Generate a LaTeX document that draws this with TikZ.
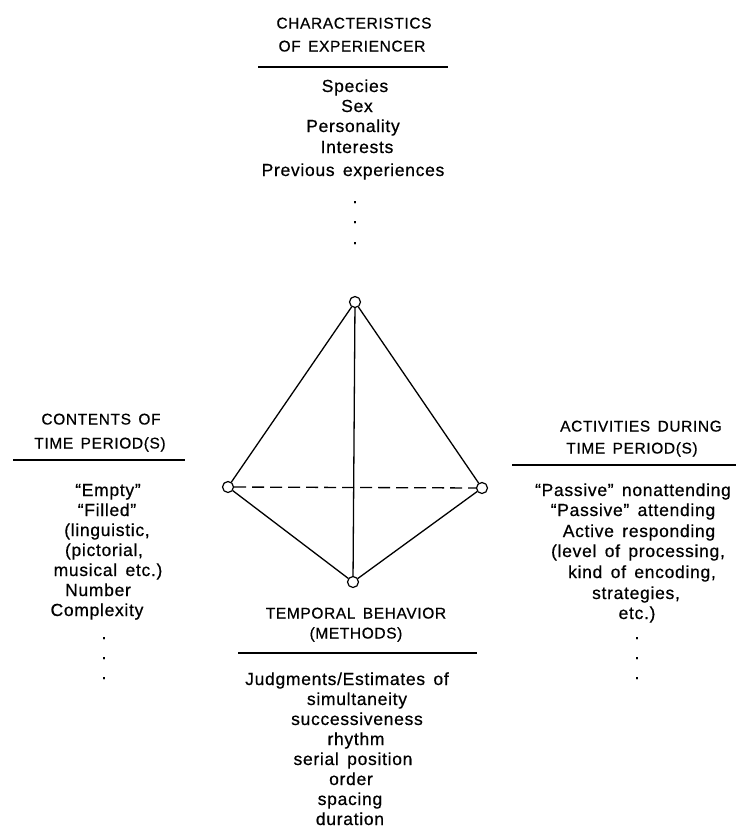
\documentclass[tikz,border=0pt]{standalone}
\usepackage{fontspec}
\setmainfont{Liberation Sans}[LetterSpace=4,WordSpace=1.5,FakeBold=0.6]
\begin{document}
\begin{tikzpicture}[x=1pt,y=-1pt,
  vtx/.style={circle,draw,line width=1.2pt,minimum size=11pt,inner sep=0pt,fill=white},
  edge/.style={line width=1.3pt},
  rulebar/.style={line width=2.4pt},
  head/.style={inner sep=0pt,text height=11pt,text depth=0pt,font=\fontsize{15.5}{18}\selectfont},
  item/.style={inner sep=0pt,text height=10pt,text depth=0pt,font=\fontsize{17.5}{19}\selectfont},
  dot/.style={inner sep=0pt,text height=2pt,text depth=0pt,font=\fontsize{17}{19}\selectfont}
]
\useasboundingbox (0,0) rectangle (736,830);

% tetrahedron vertices
\node[vtx] (T) at (355,302) {};
\node[vtx] (L) at (228,487) {};
\node[vtx] (R) at (482,488) {};
\node[vtx] (B) at (353,582) {};
\draw[edge] (T) -- (L);
\draw[edge] (T) -- (R);
\draw[edge] (T) -- (B);
\draw[edge] (L) -- (B);
\draw[edge] (R) -- (B);
\draw[edge,dash pattern=on 12pt off 6pt] (L) -- (R);

% top block
\node[head] (t1) at (354,23) {CHARACTERISTICS};
\node[head] (t2) at (352,46) {OF EXPERIENCER};
\coordinate (tr1) at (258,67); \coordinate (tr2) at (448,67);
\draw[rulebar] (tr1) -- (tr2);
\node[item] (t3) at (355,87) {Species};
\node[item] (t4) at (357,107) {Sex};
\node[item] (t5) at (353,127) {Personality};
\node[item] (t6) at (357,148) {Interests};
\node[item] (t7) at (353,171) {Previous experiences};
\node[dot] (td1) at (355,202) {.};
\node[dot] (td2) at (355,222) {.};
\node[dot] (td3) at (355,243) {.};

% left block
\node[head] (l1) at (101,419) {CONTENTS OF};
\node[head] (l2) at (100,443) {TIME PERIOD(S)};
\coordinate (lr1) at (13,460); \coordinate (lr2) at (185,460);
\draw[rulebar] (lr1) -- (lr2);
\node[item] (l3) at (108,491) {“Empty”};
\node[item] (l4) at (107,511) {“Filled”};
\node[item] (l5) at (107,531) {(linguistic,};
\node[item] (l6) at (104,551) {(pictorial,};
\node[item] (l7) at (108,571) {musical etc.)};
\node[item] (l8) at (98,591) {Number};
\node[item] (l9) at (97,611) {Complexity};
\node[dot] (ld1) at (104,638) {.};
\node[dot] (ld2) at (104,658) {.};
\node[dot] (ld3) at (104,678) {.};

% right block
\node[head] (r1) at (641,426) {ACTIVITIES DURING};
\node[head] (r2) at (632,448) {TIME PERIOD(S)};
\coordinate (rr1) at (512,465); \coordinate (rr2) at (736,465);
\draw[rulebar] (rr1) -- (rr2);
\node[item] (r3) at (633,491) {“Passive” nonattending};
\node[item] (r4) at (633,511) {“Passive” attending};
\node[item] (r5) at (639,532) {Active responding};
\node[item] (r6) at (638,552) {(level of processing,};
\node[item] (r7) at (642,573) {kind of encoding,};
\node[item] (r8) at (636,594) {strategies,};
\node[item] (r9) at (637,614) {etc.)};
\node[dot] (rd1) at (637,638) {.};
\node[dot] (rd2) at (637,658) {.};
\node[dot] (rd3) at (637,678) {.};

% bottom block
\node[head] (b1) at (356,613) {TEMPORAL BEHAVIOR};
\node[head] (b2) at (356,633) {(METHODS)};
\coordinate (br1) at (238,653); \coordinate (br2) at (477,653);
\draw[rulebar] (br1) -- (br2);
\node[item] (b3) at (347,680) {Judgments/Estimates of};
\node[item] (b4) at (357,700) {simultaneity};
\node[item] (b5) at (357,720) {successiveness};
\node[item] (b6) at (356,740) {rhythm};
\node[item] (b7) at (353,760) {serial position};
\node[item] (b8) at (351,780) {order};
\node[item] (b9) at (350,800) {spacing};
\node[item] (b10) at (350,820) {duration};
\end{tikzpicture}
\end{document}
